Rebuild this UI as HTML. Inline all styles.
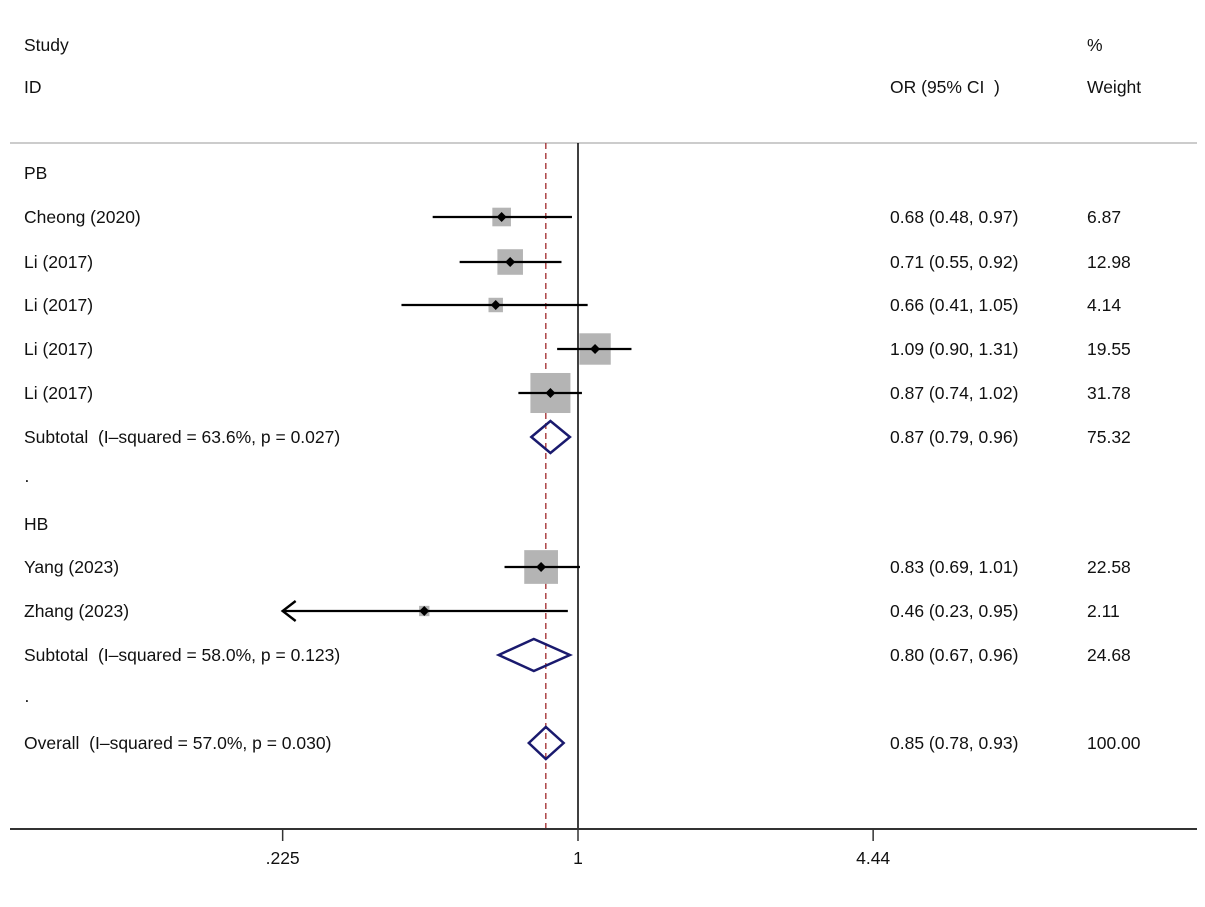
<!DOCTYPE html>
<html><head><meta charset="utf-8"><style>
body{margin:0;background:#fff}
svg text{font-family:"Liberation Sans",sans-serif;font-size:17.5px;fill:#111;white-space:pre}
</style></head><body>
<svg id="c" width="1205" height="902" xmlns="http://www.w3.org/2000/svg"></svg>
<script>
const labels=["Cheong (2020)","Li (2017)","Li (2017)","Li (2017)","Li (2017)","Yang (2023)","Zhang (2023)"];
const orVals=[0.68,0.71,0.66,1.09,0.87,0.83,0.46];
const loVals=[0.48,0.55,0.41,0.90,0.74,0.69,0.23];
const hiVals=[0.97,0.92,1.05,1.31,1.02,1.01,0.95];
const weights=[6.87,12.98,4.14,19.55,31.78,22.58,2.11];
const studyRows=[217,262,305,349,393,567,611];
const sumLabels=["Subtotal  (I\u2013squared = 63.6%, p = 0.027)","Subtotal  (I\u2013squared = 58.0%, p = 0.123)","Overall  (I\u2013squared = 57.0%, p = 0.030)"];
const sumOr=[0.87,0.80,0.85];
const sumLo=[0.79,0.67,0.78];
const sumHi=[0.96,0.96,0.93];
const sumW=["75.32","24.68","100.00"];
const sumRows=[437,655,743];
const ticks=[0.225,1,4.44];
const tickLabels=[".225","1","4.44"];
const overall=0.85;
const xmin=0.225;

const NS="http://www.w3.org/2000/svg";
const svg=document.getElementById('c');
const X=v=>578+198*Math.log(v);
function el(t,a,p){const e=document.createElementNS(NS,t);for(const k in a)e.setAttribute(k,a[k]);(p||svg).appendChild(e);return e;}
function txt(s,x,y,anchor){const e=el('text',{x:x,y:y,'text-anchor':anchor||'start'});e.textContent=s;return e;}
const fmt=v=>v.toFixed(2);

let t;
t=txt("Study",24,51);
t=txt("ID",24,93);
t=txt("OR (95% CI  )",890,93);
t=txt("%",1087,51);
t=txt("Weight",1087,93);
let ln=el('line',{x1:10,x2:1197,y1:143,y2:143,stroke:'#ccc','stroke-width':2});

t=txt("PB",24,179);
t=txt("HB",24,530);
txt("\u00b7",24,486);txt("\u00b7",24,706);

ln=el('line',{x1:X(1),x2:X(1),y1:143,y2:829,stroke:'#000','stroke-width':1.5});

ln=el('line',{x1:X(overall),x2:X(overall),y1:143,y2:829,stroke:'#a0282a','stroke-width':1.3,'stroke-dasharray':'6,4'});


for(let i=0;i<labels.length;i++){
  const y=studyRows[i];
  t=txt(labels[i],24,y+6);
  const s=7.1*Math.sqrt(weights[i]);
  const b=el('rect',{x:X(orVals[i])-s/2,y:y-s/2,width:s,height:s,fill:'#b4b4b4'});
  
  const clipped=loVals[i]<0.24;
  const lx=clipped?X(xmin):X(loVals[i]);
  const ci=el('line',{x1:lx,x2:X(hiVals[i]),y1:y,y2:y,stroke:'#000','stroke-width':2.2});
  
  if(clipped){
    const a=el('polyline',{points:`${lx+13},${y-10} ${lx},${y} ${lx+13},${y+10}`,fill:'none',stroke:'#000','stroke-width':2.4});
    
  }
  const cx=X(orVals[i]);
  const d=el('polygon',{points:`${cx-5},${y} ${cx},${y-5} ${cx+5},${y} ${cx},${y+5}`,fill:'#000'});
  
  t=txt(`${fmt(orVals[i])} (${fmt(loVals[i])}, ${fmt(hiVals[i])})`,890,y+6);
  t=txt(weights[i].toFixed(2),1087,y+6);
}
for(let i=0;i<sumLabels.length;i++){
  const y=sumRows[i];
  t=txt(sumLabels[i],24,y+6);
  const d=el('polygon',{points:`${X(sumLo[i])},${y} ${X(sumOr[i])},${y-16} ${X(sumHi[i])},${y} ${X(sumOr[i])},${y+16}`,fill:'none',stroke:'#1a1a6e','stroke-width':2.5});
  
  t=txt(`${fmt(sumOr[i])} (${fmt(sumLo[i])}, ${fmt(sumHi[i])})`,890,y+6);
  t=txt(sumW[i],1087,y+6);
}
ln=el('line',{x1:10,x2:1197,y1:829,y2:829,stroke:'#333','stroke-width':2});

for(let i=0;i<ticks.length;i++){
  const tk=el('line',{x1:X(ticks[i]),x2:X(ticks[i]),y1:829,y2:841,stroke:'#333','stroke-width':1.5});
  
  t=txt(tickLabels[i],X(ticks[i]),864,'middle');
}
</script>
</body></html>
